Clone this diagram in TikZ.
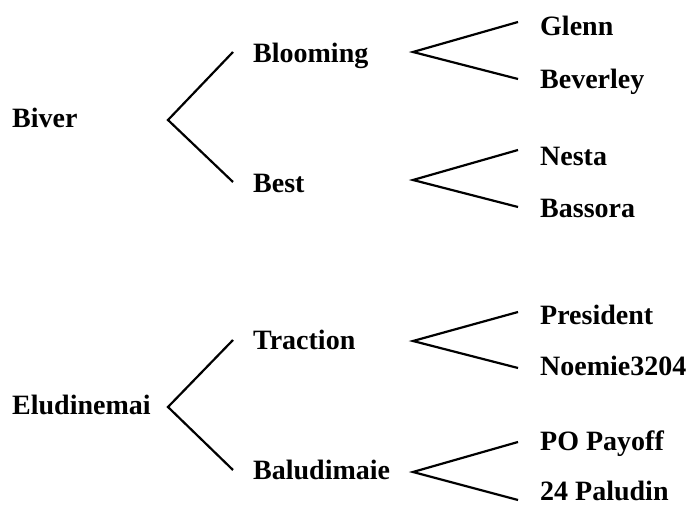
\documentclass[tikz,border=0pt]{standalone}
\usepackage{fontspec}
\setmainfont{Liberation Serif}
\begin{document}
\begin{tikzpicture}[x=1pt,y=1pt,
  lbl/.style={anchor=base west,inner sep=0pt,font=\fontsize{28}{30}\selectfont\bfseries},
  br/.style={line width=2.2pt,line join=miter}]
\useasboundingbox (0,0) rectangle (697,506);
% labels (y = 506 - pixel baseline)
\node[lbl] (biver) at (12,378) {Biver};
\node[lbl] (bloom) at (253,443) {Blooming};
\node[lbl] (best) at (253,313) {Best};
\node[lbl] (glenn) at (540,470) {Glenn};
\node[lbl] (bev) at (540,417) {Beverley};
\node[lbl] (nesta) at (540,340) {Nesta};
\node[lbl] (bass) at (540,288) {Bassora};
\node[lbl] (elud) at (12,91) {Eludinemai};
\node[lbl] (trac) at (253,156) {Traction};
\node[lbl] (balu) at (253,26) {Baludimaie};
\node[lbl] (pres) at (540,181) {President};
\node[lbl] (noem) at (540,130) {Noemie3204};
\node[lbl] (payo) at (540,55) {PO Payoff};
\node[lbl] (palu) at (540,5) {24 Paludin};
% branch points
\coordinate (v1) at (168,386);
\coordinate (b1t) at (233,454);
\coordinate (b1b) at (233,324);
\coordinate (v2) at (413,454);
\coordinate (g1) at (518,484);
\coordinate (g2) at (518,427);
\coordinate (v3) at (413,326);
\coordinate (n1) at (518,356);
\coordinate (n2) at (518,299);
\coordinate (v4) at (168,99);
\coordinate (b4t) at (233,166);
\coordinate (b4b) at (233,36);
\coordinate (v5) at (413,165);
\coordinate (p1) at (518,194);
\coordinate (p2) at (518,138);
\coordinate (v6) at (413,34);
\coordinate (q1) at (518,64);
\coordinate (q2) at (518,6);
\draw[br] (b1t) -- (v1) -- (b1b);
\draw[br] (g1) -- (v2) -- (g2);
\draw[br] (n1) -- (v3) -- (n2);
\draw[br] (b4t) -- (v4) -- (b4b);
\draw[br] (p1) -- (v5) -- (p2);
\draw[br] (q1) -- (v6) -- (q2);
\end{tikzpicture}
\end{document}
